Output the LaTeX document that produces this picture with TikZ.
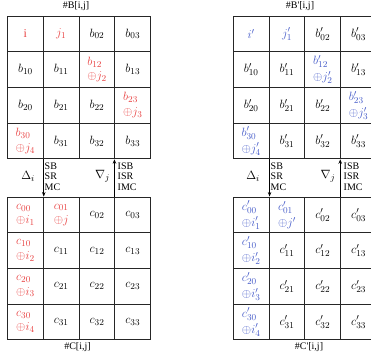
\documentclass[tikz,border=0pt]{standalone}
\usepackage{fontspec}
\setmainfont{Liberation Serif}
\DeclareMathSizes{12}{12}{9.5}{7}
\usetikzlibrary{arrows.meta}
\definecolor{rd}{RGB}{232,64,64}
\definecolor{bl}{RGB}{68,90,200}
\tikzset{
  cell/.style={draw=black!85, line width=0.9pt, minimum width=35.8pt, minimum height=35.7pt,
    inner sep=0pt, align=left, font=\fontsize{12}{14.5}\selectfont},
  tall/.style={font=\fontsize{12}{16}\selectfont},
  lbl/.style={inner sep=0pt, align=left, font=\fontsize{10}{10.6}\selectfont},
  ttl/.style={inner sep=0pt, font=\fontsize{10}{12}\selectfont},
  greek/.style={inner sep=0pt, font=\fontsize{12}{12}\selectfont},
  arr/.style={line width=0.9pt, -{Stealth[length=4.5pt,width=3.5pt]}},
  R/.style={text=rd}, Bl/.style={text=bl}
}
\begin{document}
\begin{tikzpicture}[x=1pt,y=-1pt]
\useasboundingbox (0,0) rectangle (371,358);
\clip (0,0) rectangle (371,358);
% ---------- left B grid ----------
\node[cell,R] (B00) at (25.4,33.85) {$\mathrm{i}$};
\node[cell,R] (B01) at (61.2,33.85) {$j_1$};
\node[cell] (B02) at (97.0,33.85) {$b_{02}$};
\node[cell] (B03) at (132.8,33.85) {$b_{03}$};
\node[cell] (B10) at (25.4,69.55) {$b_{10}$};
\node[cell] (B11) at (61.2,69.55) {$b_{11}$};
\node[cell,R] (B12) at (97.0,69.55) {$b_{12}$\\$\oplus j_2$};
\node[cell] (B13) at (132.8,69.55) {$b_{13}$};
\node[cell] (B20) at (25.4,105.25) {$b_{20}$};
\node[cell] (B21) at (61.2,105.25) {$b_{21}$};
\node[cell] (B22) at (97.0,105.25) {$b_{22}$};
\node[cell,R] (B23) at (132.8,105.25) {$b_{23}$\\$\oplus j_3$};
\node[cell,R] (B30) at (25.4,140.95) {$b_{30}$\\$\oplus j_4$};
\node[cell] (B31) at (61.2,140.95) {$b_{31}$};
\node[cell] (B32) at (97.0,140.95) {$b_{32}$};
\node[cell] (B33) at (132.8,140.95) {$b_{33}$};
% ---------- left C grid ----------
\node[cell,R] (C00) at (25.4,214.85) {$c_{00}$\\$\oplus i_1$};
\node[cell,R] (C01) at (61.2,214.85) {$c_{01}$\\$\oplus j$};
\node[cell] (C02) at (97.0,214.85) {$c_{02}$};
\node[cell] (C03) at (132.8,214.85) {$c_{03}$};
\node[cell,R] (C10) at (25.4,250.55) {$c_{10}$\\$\oplus i_2$};
\node[cell] (C11) at (61.2,250.55) {$c_{11}$};
\node[cell] (C12) at (97.0,250.55) {$c_{12}$};
\node[cell] (C13) at (132.8,250.55) {$c_{13}$};
\node[cell,R] (C20) at (25.4,286.25) {$c_{20}$\\$\oplus i_3$};
\node[cell] (C21) at (61.2,286.25) {$c_{21}$};
\node[cell] (C22) at (97.0,286.25) {$c_{22}$};
\node[cell] (C23) at (132.8,286.25) {$c_{23}$};
\node[cell,R] (C30) at (25.4,321.95) {$c_{30}$\\$\oplus i_4$};
\node[cell] (C31) at (61.2,321.95) {$c_{31}$};
\node[cell] (C32) at (97.0,321.95) {$c_{32}$};
\node[cell] (C33) at (132.8,321.95) {$c_{33}$};
% ---------- right B' grid ----------
\node[cell,Bl] (P00) at (251.2,33.85) {$i'$};
\node[cell,Bl] (P01) at (287.0,33.85) {$j'_1$};
\node[cell] (P02) at (322.8,33.85) {$b'_{02}$};
\node[cell] (P03) at (358.6,33.85) {$b'_{03}$};
\node[cell] (P10) at (251.2,69.55) {$b'_{10}$};
\node[cell] (P11) at (287.0,69.55) {$b'_{11}$};
\node[cell,Bl,tall] (P12) at (322.8,69.55) {$b'_{12}$\\$\oplus j'_2$};
\node[cell] (P13) at (358.6,69.55) {$b'_{13}$};
\node[cell] (P20) at (251.2,105.25) {$b'_{20}$};
\node[cell] (P21) at (287.0,105.25) {$b'_{21}$};
\node[cell] (P22) at (322.8,105.25) {$b'_{22}$};
\node[cell,Bl,tall] (P23) at (358.6,105.25) {$b'_{23}$\\$\oplus j'_3$};
\node[cell,Bl,tall] (P30) at (251.2,140.95) {$b'_{30}$\\$\oplus j'_4$};
\node[cell] (P31) at (287.0,140.95) {$b'_{31}$};
\node[cell] (P32) at (322.8,140.95) {$b'_{32}$};
\node[cell] (P33) at (358.6,140.95) {$b'_{33}$};
% ---------- right C' grid ----------
\node[cell,Bl,tall] (Q00) at (251.2,214.85) {$c'_{00}$\\$\oplus i'_1$};
\node[cell,Bl,tall] (Q01) at (287.0,214.85) {$c'_{01}$\\$\oplus j'$};
\node[cell] (Q02) at (322.8,214.85) {$c'_{02}$};
\node[cell] (Q03) at (358.6,214.85) {$c'_{03}$};
\node[cell,Bl,tall] (Q10) at (251.2,250.55) {$c'_{10}$\\$\oplus i'_2$};
\node[cell] (Q11) at (287.0,250.55) {$c'_{11}$};
\node[cell] (Q12) at (322.8,250.55) {$c'_{12}$};
\node[cell] (Q13) at (358.6,250.55) {$c'_{13}$};
\node[cell,Bl,tall] (Q20) at (251.2,286.25) {$c'_{20}$\\$\oplus i'_3$};
\node[cell] (Q21) at (287.0,286.25) {$c'_{21}$};
\node[cell] (Q22) at (322.8,286.25) {$c'_{22}$};
\node[cell] (Q23) at (358.6,286.25) {$c'_{23}$};
\node[cell,Bl,tall] (Q30) at (251.2,321.95) {$c'_{30}$\\$\oplus i'_4$};
\node[cell] (Q31) at (287.0,321.95) {$c'_{31}$};
\node[cell] (Q32) at (322.8,321.95) {$c'_{32}$};
\node[cell] (Q33) at (358.6,321.95) {$c'_{33}$};
% ---------- titles ----------
\node[ttl] (tB) at (76,6) {\#B[i,j]};
\node[ttl] (tC) at (77.5,347) {\#C[i,j]};
\node[ttl] (tBp) at (300,6) {\#B\textquotesingle[i,j]};
\node[ttl] (tCp) at (309,347) {\#C\textquotesingle[i,j]};
% ---------- arrows ----------
\draw[arr] (B30.south east) -- (C00.north east);
\draw[arr] (C03.north west) -- (B33.south west);
\draw[arr] (P30.south east) -- (Q00.north east);
\draw[arr] (Q03.north west) -- (P33.south west);
% ---------- labels ----------
\node[lbl, anchor=west] (l1) at (44.5,176.5) {SB\\SR\\MC};
\node[lbl, anchor=west] (l2) at (117.5,176.5) {ISB\\ISR\\IMC};
\node[lbl, anchor=west] (l3) at (270.5,176.5) {SB\\SR\\MC};
\node[lbl, anchor=west] (l4) at (343.5,176.5) {ISB\\ISR\\IMC};
\node[greek] (d1) at (28,176) {$\Delta_i$};
\node[greek] (n1) at (102.5,176) {$\nabla_j$};
\node[greek] (d2) at (253,176) {$\Delta_i$};
\node[greek] (n2) at (328,176) {$\nabla_j$};
\end{tikzpicture}
\end{document}
